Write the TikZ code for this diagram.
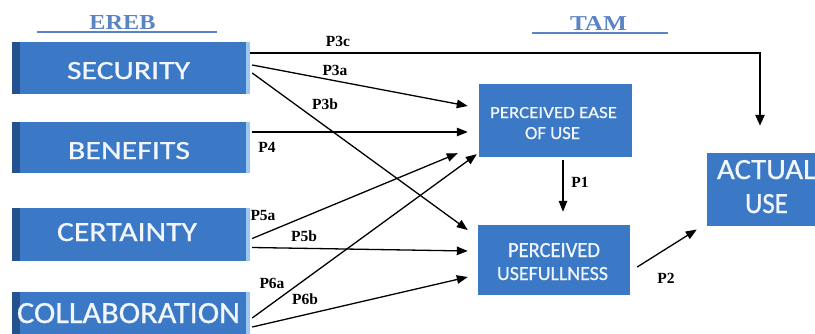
\documentclass[tikz,border=0pt]{standalone}
\usepackage{fontspec}
\setmainfont{Liberation Serif}
\newfontfamily\boxfont{Carlito}[FakeBold=0.7]
\usetikzlibrary{arrows.meta,calc}
\definecolor{boxblue}{HTML}{3B78C5}
\definecolor{stripdark}{HTML}{24528F}
\definecolor{striplight}{HTML}{9CC8EF}
\definecolor{headblue}{HTML}{5B84C4}
\definecolor{boxtext}{HTML}{F0F6FC}
\newcommand\fitbox[3]{\resizebox{#1pt}{#2pt}{#3}}
\begin{document}
\begin{tikzpicture}[x=1pt,y=-1pt,
  leftbox/.style={rectangle, fill=boxblue, minimum width=238pt, inner sep=0pt,
    path picture={
      \fill[stripdark] (path picture bounding box.north west) rectangle ([xshift=8pt]path picture bounding box.south west);
      \fill[striplight] ([xshift=-4pt]path picture bounding box.north east) rectangle (path picture bounding box.south east);}},
  tambox/.style={rectangle, fill=boxblue, inner sep=0pt},
  boxlbl/.style={text=boxtext, font=\boxfont, inner sep=0pt, anchor=base},
  head/.style={text=headblue, font=\bfseries, inner sep=0pt, anchor=base},
  plbl/.style={font=\fontsize{15.5}{18}\selectfont\bfseries, inner sep=0pt},
  arr/.style={line width=1.3pt, -{Triangle[length=11pt,width=8.5pt]}},
  thickarr/.style={line width=2.4pt, -{Triangle[length=11pt,width=9pt]}}
]
\useasboundingbox (0,0) rectangle (815,333);
\begin{scope}
\clip (0,0) rectangle (815,333);
% headings
\node[head] (ereb) at (122.5,29) {\fitbox{66}{14}{EREB}};
\draw[headblue, line width=1.5pt] (37,32) -- (217,32);
\node[head] (tam) at (598.5,30) {\fitbox{57}{14}{TAM}};
\draw[headblue, line width=1.5pt] (532,33) -- (668,33);
% left boxes
\node[leftbox, minimum height=52pt] (sec) at (131,68) {};
\node[leftbox, minimum height=51pt] (ben) at (131,147.5) {};
\node[leftbox, minimum height=53pt] (cer) at (131,234.5) {};
\node[leftbox, minimum height=52pt] (col) at (131,318) {};
\node[boxlbl] (tsec) at (128.5,79) {\fitbox{123}{17}{SECURITY}};
\node[boxlbl] (tben) at (129,159) {\fitbox{122}{17}{BENEFITS}};
\node[boxlbl] (tcer) at (127,241) {\fitbox{140}{18}{CERTAINTY}};
\node[boxlbl] (tcol) at (128.5,323) {\fitbox{223}{20}{COLLABORATION}};
% TAM boxes
\node[tambox, minimum width=153pt, minimum height=73pt] (peou) at (555.5,120.5) {};
\node[tambox, minimum width=152pt, minimum height=70pt] (pu) at (554,260) {};
\node[tambox, minimum width=111pt, minimum height=73pt] (au) at (762.5,189.5) {};
\node[boxlbl] (tpeou1) at (553.5,118) {\fitbox{127}{11}{PERCEIVED EASE}};
\node[boxlbl] (tpeou2) at (552.5,139) {\fitbox{55}{12}{OF USE}};
\node[boxlbl] (tpu1) at (554,257) {\fitbox{92}{14}{PERCEIVED}};
\node[boxlbl] (tpu2) at (552.5,280) {\fitbox{111}{13}{USEFULLNESS}};
\node[boxlbl] (tau1) at (766.5,179) {\fitbox{99}{19}{ACTUAL}};
\node[boxlbl] (tau2) at (766.5,213) {\fitbox{43}{19}{USE}};
% connectors
\draw[thickarr] ($(sec.east)+(0,-15)$) -| ($(au.north)+(-2.5,-27)$);
\draw[arr] ($(sec.east)+(2,-3)$) -- ($(peou.west)+(-11,-14.5)$);
\draw[arr] ($(sec.east)+(2,5)$) -- ($(pu.west)+(-10,-30)$);
\draw[arr] ($(ben.east)+(2,-15.5)$) -- ($(peou.west)+(-11,11.5)$);
\draw[arr] ($(cer.east)+(2,4)$) -- ($(peou.south west)+(-21,-4)$);
\draw[arr] ($(cer.east)+(2,13)$) -- ($(pu.west)+(-10,-9)$);
\draw[arr] ($(col.east)+(2,0)$) -- ($(peou.south west)+(-2,-3)$);
\draw[arr] ($(col.east)+(2,9)$) -- ($(pu.west)+(-10,17)$);
\draw[arr] ($(peou.south)+(7.5,3)$) -- ($(pu.north)+(9,-13)$);
\draw[arr] ($(pu.east)+(7,7)$) -- ($(au.west)+(-10,40)$);
% labels
\node[plbl] (l3c) at (338,41) {P3c};
\node[plbl] (l3a) at (335,70) {P3a};
\node[plbl] (l3b) at (325,104) {P3b};
\node[plbl] (l4) at (267,147) {P4};
\node[plbl] (l5a) at (263,215) {P5a};
\node[plbl] (l5b) at (304,236) {P5b};
\node[plbl] (l6a) at (272,283) {P6a};
\node[plbl] (l6b) at (305,299) {P6b};
\node[plbl] (l1) at (580,182) {P1};
\node[plbl] (l2) at (666,278) {P2};
\end{scope}
\end{tikzpicture}
\end{document}
